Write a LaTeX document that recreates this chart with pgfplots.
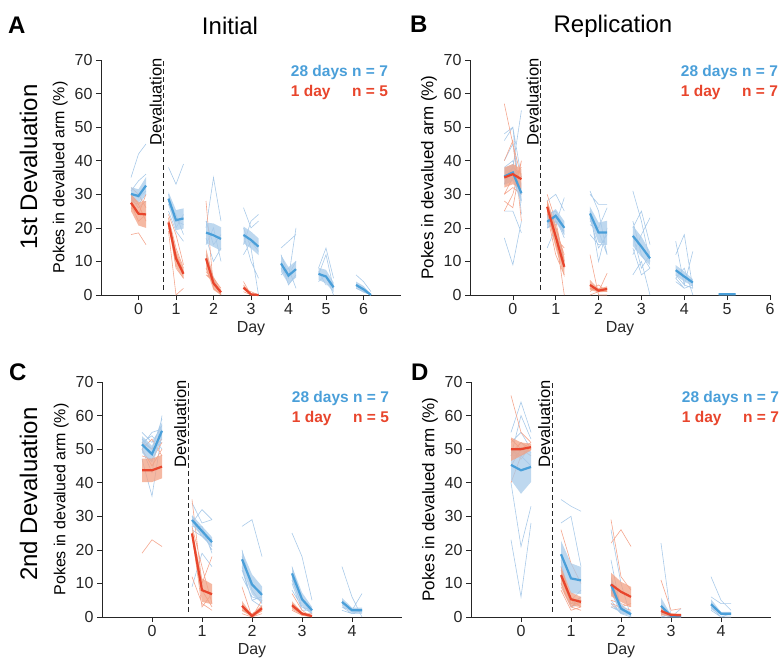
\documentclass[border=0pt]{standalone}
\usepackage{fontspec}
\setmainfont{Liberation Sans}
\usepackage{pgfplots}
\pgfplotsset{compat=1.18}

\definecolor{cblue}{HTML}{4A9FD9}
\definecolor{cred}{HTML}{E8452C}
\definecolor{bblue}{HTML}{A8CBEA}
\definecolor{bred}{HTML}{F2A184}
\definecolor{iblue}{HTML}{A9CAE9}
\definecolor{ired}{HTML}{F4A68E}
\definecolor{axgray}{HTML}{262626}

\pgfplotsset{
  panel/.style={
    scale only axis, width=300pt, height=235pt,
    xmin=-1, ymin=0, ymax=70, ytick={0,10,...,70},
    axis lines*=left, axis line style={axgray, line width=0.6pt, -},
    tick align=outside, tick pos=left, major tick length=5pt,
    tick style={axgray, line width=0.6pt},
    tick label style={font=\fontsize{16}{18}\selectfont, text=axgray},
    /pgf/number format/assume math mode=true,
    xlabel={Day}, xlabel style={font=\fontsize{16}{18}\selectfont, text=axgray},
    ylabel={Pokes in devalued arm (\%)},
    clip=false, unbounded coords=jump,
  },
  indb/.style={iblue, line width=0.6pt},
  indr/.style={ired, line width=0.6pt},
  bandb/.style={fill=bblue, draw=none, fill opacity=0.75},
  bandr/.style={fill=bred, draw=none, fill opacity=0.75},
  meanb/.style={cblue, line width=2.2pt},
  meanr/.style={cred, line width=2.2pt},
  devline/.style={black!85, line width=0.8pt, dash pattern=on 5pt off 3pt},
}
\tikzset{
  legb/.style={font=\fontsize{15.5}{18}\selectfont\bfseries, text=cblue, inner sep=0pt},
  legr/.style={font=\fontsize{15.5}{18}\selectfont\bfseries, text=cred, inner sep=0pt},
  devtext/.style={rotate=90, anchor=base east, inner sep=0pt, font=\fontsize{16.5}{18}\selectfont},
}

\begin{document}
\begin{tikzpicture}
\path[use as bounding box] (0,0) rectangle (780pt,-659pt);

% ---------------- A: initial, 1st devaluation
\begin{axis}[panel, at={(101pt,-295pt)}, anchor=south west, xmax=7, xtick={0,...,6},
  ylabel style={font=\fontsize{16}{18}\selectfont}]
\addplot[indb] coordinates {
(-0.2,35)(0,42)(0.2,45)(0,nan) (-0.2,31)(0,34)(0.2,36)(0,nan) (-0.2,30)(0,29)(0.2,31)(0,nan) (-0.2,28)(0,27)(0.2,30)(0,nan) (-0.2,29)(0,26)(0.2,28)(0,nan)
(0.8,38)(1,33)(1.2,39)(0,nan) (0.8,30)(1,20)(1.2,24)(0,nan) (0.8,27)(1,24)(1.2,18)(0,nan) (0.8,25)(1,19)(1.2,16)(0,nan) (0.8,28)(1,22)(1.2,21)(0,nan)
(1.8,20)(2,35)(2.2,22)(0,nan) (1.8,15)(2,20)(2.2,10)(0,nan) (1.8,22)(2,15)(2.2,18)(0,nan) (1.8,17)(2,10)(2.2,14)(0,nan) (1.8,12)(2,5)(2.2,0)(0,nan)
(2.8,26)(3,20)(3.2,22)(0,nan) (2.8,15)(3,22)(3.2,24)(0,nan) (2.8,18)(3,10)(3.2,5)(0,nan) (2.8,20)(3,14)(3.2,0)(0,nan) (2.8,12)(3,16)(3.2,13)(0,nan)
(3.8,14)(4,16)(4.2,18)(0,nan) (3.8,10)(4,3)(4.2,6)(0,nan) (3.8,8)(4,5)(4.2,20)(0,nan) (3.8,6)(4,8)(4.2,2)(0,nan) (3.8,12)(4,6)(4.2,10)(0,nan)
(4.8,8)(5,14)(5.2,5)(0,nan) (4.8,6)(5,12)(5.2,2)(0,nan) (4.8,4)(5,6)(5.2,0)(0,nan) (4.8,7)(5,3)(5.2,3)(0,nan)
(5.8,6)(6,4)(6.2,1)(0,nan) (5.8,3)(6,1)(6.2,0)(0,nan) (5.8,2)(6,1)(6.2,0)
};
\addplot[indr] coordinates {
(-0.2,18)(0,18.5)(0.2,15)(0,nan) (-0.2,32)(0,30)(0.2,26)(0,nan) (-0.2,30)(0,27)(0.2,22)(0,nan) (-0.2,27)(0,22)(0.2,24)(0,nan) (-0.2,26)(0,24)(0.2,30)(0,nan)
(0.8,23)(1,14)(1.2,8)(0,nan) (0.8,20)(1,12)(1.2,7)(0,nan) (0.8,22)(1,8)(1.2,5)(0,nan) (0.8,19)(1,0)(1.2,2)(0,nan) (0.8,24)(1,18)(1.2,9)(0,nan)
(1.8,28)(2,2)(2.2,0)(0,nan) (1.8,8)(2,3)(2.2,1)(0,nan) (1.8,6)(2,5)(2.2,2)(0,nan) (1.8,7)(2,4)(2.2,1)(0,nan) (1.8,6)(2,4)(2.2,0)(0,nan)
(2.8,4)(3,0)(3.2,0)(0,nan) (2.8,3)(3,0)(3.2,0)(0,nan) (2.8,2)(3,1)(3.2,0)(0,nan) (2.8,1)(3,0)(3.2,0)
};
\addplot[bandb] coordinates {
(-0.2,28.1)(0,27.5)(0.2,30.1)(0.2,35.1)(0,31.5)(-0.2,32.1)(0,nan)
(0.8,26.7)(1,19.3)(1.2,19.8)(1.2,25.8)(1,25.3)(0.8,30.7)(0,nan)
(1.8,15.6)(2,14.3)(2.2,13.2)(2.2,20.2)(2,21.3)(1.8,21.6)(0,nan)
(2.8,15.4)(3,13.9)(3.2,11.9)(3.2,16.9)(3,18.9)(2.8,20.4)(0,nan)
(3.8,6.9)(4,3.3)(4.2,5.2)(4.2,10.2)(4,8.3)(3.8,11.9)(0,nan)
(4.8,4.5)(5,3.5)(5.2,0.8)(5.2,3.8)(5,7.5)(4.8,8.1)(0,nan)
(5.8,2)(6,0.7)(6.2,0)(6.2,0.3)(6,2.7)(5.8,4)
};
\addplot[bandr] coordinates {
(-0.2,25)(0,20.7)(0.2,20)(0.2,28)(0,27.7)(-0.2,30)(0,nan)
(0.8,20.1)(1,8.4)(1.2,4.8)(1.2,7.8)(1,13.4)(0.8,23.1)(0,nan)
(1.8,7.9)(2,1.5)(2.2,0)(2.2,1.6)(2,5.5)(1.8,13.9)(0,nan)
(2.8,1.6)(3,0)(3.2,0)(3.2,0.2)(3,0.4)(2.8,2.8)
};
\addplot[meanb] coordinates {
(-0.2,30.1)(0,29.5)(0.2,32.6)(0,nan) (0.8,28.7)(1,22.3)(1.2,22.8)(0,nan) (1.8,18.6)(2,17.8)(2.2,16.7)(0,nan)
(2.8,17.9)(3,16.4)(3.2,14.4)(0,nan) (3.8,9.4)(4,5.8)(4.2,7.7)(0,nan) (4.8,6.3)(5,5.5)(5.2,2.3)(0,nan) (5.8,3)(6,1.7)(6.2,0)
};
\addplot[meanr] coordinates {
(-0.2,27.5)(0,24.2)(0.2,24)(0,nan) (0.8,21.6)(1,10.9)(1.2,6.3)(0,nan) (1.8,10.9)(2,3.5)(2.2,0.8)(0,nan) (2.8,2.2)(3,0.2)(3.2,0)
};
\addplot[devline] coordinates {(0.67,1.5)(0.67,70)};
\node[devtext] at ([xshift=-2pt]axis cs:0.67,70.5) {Devaluation};
\node[legb, anchor=base east] (L) at (rel axis cs:0.957,0.928) {28 days n = 7};
\node[legr, anchor=base west] at ([yshift=-20pt]L.base west) {1 day};
\node[legr, anchor=base east] at ([yshift=-20pt]L.base east) {n = 5};
\end{axis}

% ---------------- B: replication, 1st devaluation
\begin{axis}[panel, at={(470pt,-295pt)}, anchor=south west, xmax=6, xtick={0,...,6},
  ylabel style={font=\fontsize{17}{19}\selectfont}]
\addplot[indb] coordinates {
(-0.2,17)(0,9)(0.2,22)(0,nan) (-0.2,25)(0,25)(0.2,18.5)(0,nan) (-0.2,33)(0,38)(0.2,55)(0,nan) (-0.2,40)(0,45)(0.2,28)(0,nan) (-0.2,38)(0,40)(0.2,30)(0,nan) (-0.2,48)(0,50)(0.2,35)(0,nan) (-0.2,46)(0,50)(0.2,24)(0,nan)
(0.8,22)(1,24)(1.2,18)(0,nan) (0.8,28)(1,30)(1.2,25)(0,nan) (0.8,14)(1,20)(1.2,10)(0,nan) (0.8,24)(1,25)(1.2,20)(0,nan) (0.8,20)(1,22)(1.2,19)(0,nan) (0.8,21)(1,23)(1.2,17)(0,nan) (0.8,20)(1,21)(1.2,29)(0,nan)
(1.8,30)(2,27)(2.2,27)(0,nan) (1.8,25)(2,10)(2.2,20)(0,nan) (1.8,31)(2,25)(2.2,12)(0,nan) (1.8,22)(2,20)(2.2,26)(0,nan) (1.8,18)(2,15)(2.2,15)(0,nan) (1.8,23)(2,14)(2.2,18)(0,nan) (1.8,21)(2,19)(2.2,12)(0,nan)
(2.8,31)(3,22)(3.2,10)(0,nan) (2.8,12)(3,18)(3.2,23)(0,nan) (2.8,6)(3,10)(3.2,0)(0,nan) (2.8,20)(3,25)(3.2,15)(0,nan) (2.8,18)(3,8)(3.2,12)(0,nan) (2.8,22)(3,12)(3.2,8)(0,nan) (2.8,14)(3,6)(3.2,8)(0,nan)
(3.8,16)(4,3)(4.2,13)(0,nan) (3.8,12)(4,18)(4.2,2)(0,nan) (3.8,5)(4,8)(4.2,0)(0,nan) (3.8,4)(4,2)(4.2,3)(0,nan) (3.8,6)(4,3)(4.2,2)(0,nan) (3.8,5)(4,2)(4.2,3)
};
\addplot[indr] coordinates {
(-0.2,57)(0,45)(0.2,35)(0,nan) (-0.2,40)(0,46)(0.2,22)(0,nan) (-0.2,30)(0,35)(0.2,38)(0,nan) (-0.2,25)(0,30)(0.2,40)(0,nan) (-0.2,35)(0,38)(0.2,36)(0,nan) (-0.2,30)(0,32)(0.2,30)(0,nan) (-0.2,28)(0,26)(0.2,40)(0,nan)
(0.8,30)(1,22)(1.2,10)(0,nan) (0.8,28)(1,18)(1.2,0)(0,nan) (0.8,26)(1,20)(1.2,12)(0,nan) (0.8,24)(1,12)(1.2,6)(0,nan) (0.8,25)(1,15)(1.2,8)(0,nan) (0.8,27)(1,18)(1.2,9)(0,nan) (0.8,24)(1,17)(1.2,14)(0,nan)
(1.8,12)(2,0)(2.2,0)(0,nan) (1.8,3)(2,1)(2.2,6.5)(0,nan) (1.8,2)(2,2)(2.2,2)(0,nan) (1.8,1)(2,3)(2.2,1)(0,nan) (1.8,2)(2,1)(2.2,1)(0,nan) (1.8,0)(2,1)(2.2,1)
};
\addplot[bandb] coordinates {
(-0.2,32.8)(0,34)(0.2,27.3)(0.2,33.3)(0,39)(-0.2,37.8)(0,nan)
(0.8,19.8)(1,21.6)(1.2,18)(1.2,22)(1,25.6)(0.8,23.8)(0,nan)
(1.8,22.3)(2,15.6)(2.2,15.1)(2.2,22.1)(2,21.6)(1.8,26.3)(0,nan)
(2.8,14.6)(3,11.4)(3.2,8.9)(3.2,12.9)(3,17.4)(2.8,20.6)(0,nan)
(3.8,5.9)(4,4)(4.2,2.7)(4.2,4.7)(4,7)(3.8,8.9)(0,nan)
(4.8,0)(5,0)(5.2,0)(5.2,0.4)(5,0.4)(4.8,0.4)
};
\addplot[bandr] coordinates {
(-0.2,32)(0,33)(0.2,31.5)(0.2,37.5)(0,39)(-0.2,38)(0,nan)
(0.8,24.3)(1,13.9)(1.2,5.4)(1.2,11.4)(1,20.9)(0.8,28.3)(0,nan)
(1.8,1.5)(2,0.8)(2.2,1)(2.2,2.6)(2,1.8)(1.8,4.5)
};
\addplot[meanb] coordinates {
(-0.2,35.3)(0,36.5)(0.2,30.3)(0,nan) (0.8,21.8)(1,23.6)(1.2,20)(0,nan) (1.8,24.3)(2,18.6)(2.2,18.6)(0,nan)
(2.8,17.6)(3,14.4)(3.2,10.9)(0,nan) (3.8,7.4)(4,5.5)(4.2,3.7)(0,nan) (4.8,0.2)(5,0.2)(5.2,0.2)
};
\addplot[meanr] coordinates {
(-0.2,35)(0,36)(0.2,34.5)(0,nan) (0.8,26.3)(1,17.4)(1.2,8.4)(0,nan) (1.8,3)(2,1.3)(2.2,1.8)
};
\addplot[devline] coordinates {(0.65,1.5)(0.65,70)};
\node[devtext] at ([xshift=-2pt]axis cs:0.65,70.5) {Devaluation};
\node[legb, anchor=base east] (L) at (rel axis cs:1.027,0.928) {28 days n = 7};
\node[legr, anchor=base west] at ([yshift=-20pt]L.base west) {1 day};
\node[legr, anchor=base east] at ([yshift=-20pt]L.base east) {n = 7};
\end{axis}

% ---------------- C: initial, 2nd devaluation
\begin{axis}[panel, at={(102pt,-617pt)}, anchor=south west, xmax=5, xtick={0,...,4},
  ylabel style={font=\fontsize{16}{18}\selectfont}]
\addplot[indb] coordinates {
(-0.2,50)(0,43)(0.2,60)(0,nan) (-0.2,53)(0,50)(0.2,59)(0,nan) (-0.2,55)(0,52)(0.2,57)(0,nan) (-0.2,47)(0,36)(0.2,55)(0,nan) (-0.2,52)(0,50)(0.2,52)(0,nan) (-0.2,51)(0,55)(0.2,56)(0,nan) (-0.2,52)(0,54)(0.2,50)(0,nan)
(0.8,28)(1,32)(1.2,29)(0,nan) (0.8,34)(1,28)(1.2,29)(0,nan) (0.8,30)(1,25)(1.2,20)(0,nan) (0.8,27)(1,27)(1.2,19)(0,nan) (0.8,26)(1,24)(1.2,21)(0,nan) (0.8,29)(1,24)(1.2,23)(0,nan) (0.8,9)(1,19)(1.2,15)(0,nan)
(1.8,27)(2,29)(2.2,18)(0,nan) (1.8,20)(2,8)(2.2,4)(0,nan) (1.8,15)(2,5)(2.2,3)(0,nan) (1.8,18)(2,10)(2.2,7)(0,nan) (1.8,12)(2,6)(2.2,5)(0,nan) (1.8,14)(2,5)(2.2,3)(0,nan) (1.8,14)(2,5)(2.2,6)(0,nan)
(2.8,25)(3,18)(3.2,5)(0,nan) (2.8,15)(3,5)(3.2,1)(0,nan) (2.8,12)(3,3)(3.2,2)(0,nan) (2.8,8)(3,3)(3.2,1)(0,nan) (2.8,10)(3,2)(3.2,2)(0,nan) (2.8,11)(3,3)(3.2,2)(0,nan)
(3.8,15)(4,6)(4.2,0)(0,nan) (3.8,3)(4,2)(4.2,7)(0,nan) (3.8,2)(4,1)(4.2,1)(0,nan) (3.8,3)(4,1)(4.2,2)(0,nan) (3.8,3)(4,2)(4.2,2)
};
\addplot[indr] coordinates {
(-0.2,19)(0,23)(0.2,21)(0,nan) (-0.2,48)(0,47)(0.2,52)(0,nan) (-0.2,50)(0,53)(0.2,48)(0,nan) (-0.2,52)(0,50)(0.2,53)(0,nan) (-0.2,50)(0,45)(0.2,50)(0,nan)
(0.8,25)(1,3)(1.2,7)(0,nan) (0.8,12)(1,4)(1.2,2)(0,nan) (0.8,35)(1,10)(1.2,18)(0,nan) (0.8,27)(1,15)(1.2,4)(0,nan) (0.8,25)(1,8)(1.2,3)(0,nan)
(1.8,9)(2,0)(2.2,1)(0,nan) (1.8,3)(2,0)(2.2,5)(0,nan) (1.8,2)(2,1)(2.2,3)(0,nan) (1.8,1)(2,0)(2.2,2)(0,nan)
(2.8,7)(3,2)(3.2,0)(0,nan) (2.8,4)(3,1)(3.2,0)(0,nan) (2.8,3)(3,1)(3.2,1)(0,nan) (2.8,2)(3,0.5)(3.2,0)
};
\addplot[bandb] coordinates {
(-0.2,48.9)(0,46)(0.2,53)(0.2,58)(0,51)(-0.2,53.9)(0,nan)
(0.8,27.4)(1,24.1)(1.2,20.8)(1.2,23.8)(1,27.1)(0.8,30.4)(0,nan)
(1.8,14.7)(2,6.7)(2.2,4.1)(2.2,9.1)(2,12.7)(1.8,19.7)(0,nan)
(2.8,11)(3,3.3)(3.2,1)(3.2,3)(3,7.3)(2.8,15)(0,nan)
(3.8,3.3)(4,1.2)(4.2,1.2)(4.2,2.8)(4,2.8)(3.8,5.7)
};
\addplot[bandr] coordinates {
(-0.2,40.2)(0,40.2)(0.2,41.3)(0.2,48.3)(0,47.2)(-0.2,47.2)(0,nan)
(0.8,23.4)(1,4.5)(1.2,3.8)(1.2,9.8)(1,11.5)(0.8,26.4)(0,nan)
(1.8,1.8)(2,0)(2.2,1.6)(2.2,3.6)(2,0.6)(1.8,4.8)(0,nan)
(2.8,2.3)(3,0.5)(3.2,0)(3.2,0.6)(3,1.5)(2.8,4.7)
};
\addplot[meanb] coordinates {
(-0.2,51.4)(0,48.5)(0.2,55.5)(0,nan) (0.8,28.9)(1,25.6)(1.2,22.3)(0,nan) (1.8,17.2)(2,9.7)(2.2,6.6)(0,nan)
(2.8,13)(3,5.3)(3.2,2)(0,nan) (3.8,4.5)(4,2)(4.2,2)
};
\addplot[meanr] coordinates {
(-0.2,43.7)(0,43.7)(0.2,44.8)(0,nan) (0.8,24.9)(1,8)(1.2,6.8)(0,nan) (1.8,3.3)(2,0.3)(2.2,2.6)(0,nan) (2.8,3.5)(3,1)(3.2,0.3)
};
\addplot[devline] coordinates {(0.72,1.5)(0.72,70)};
\node[devtext] at ([xshift=-2pt]axis cs:0.72,70.5) {Devaluation};
\node[legb, anchor=base east] (L) at (rel axis cs:0.957,0.911) {28 days n = 7};
\node[legr, anchor=base west] at ([yshift=-20pt]L.base west) {1 day};
\node[legr, anchor=base east] at ([yshift=-20pt]L.base east) {n = 5};
\end{axis}

% ---------------- D: replication, 2nd devaluation
\begin{axis}[panel, at={(471pt,-617pt)}, anchor=south west, xmax=5, xtick={0,...,4},
  ylabel style={font=\fontsize{17}{19}\selectfont}]
\addplot[indb] coordinates {
(-0.2,23)(0,6)(0.2,28)(0,nan) (-0.2,40)(0,21)(0.2,33)(0,nan) (-0.2,55)(0,64)(0.2,55)(0,nan) (-0.2,48)(0,60)(0.2,53)(0,nan) (-0.2,50)(0,48)(0.2,45)(0,nan) (-0.2,52)(0,55)(0.2,50)(0,nan) (-0.2,49)(0,52)(0.2,49)(0,nan)
(0.8,35)(1,33)(1.2,31.5)(0,nan) (0.8,28)(1,30)(1.2,15)(0,nan) (0.8,15)(1,3)(1.2,5)(0,nan) (0.8,14)(1,5)(1.2,8)(0,nan) (0.8,12)(1,4)(1.2,6)(0,nan) (0.8,10)(1,3)(1.2,4)(0,nan) (0.8,17)(1,3)(1.2,6)(0,nan)
(1.8,26)(2,10)(2.2,0)(0,nan) (1.8,17)(2,2)(2.2,1)(0,nan) (1.8,8)(2,1)(2.2,0)(0,nan) (1.8,5)(2,1)(2.2,1)(0,nan) (1.8,4)(2,1)(2.2,1)(0,nan) (1.8,3)(2,1.5)(2.2,1.5)(0,nan)
(2.8,22)(3,0)(3.2,0)(0,nan) (2.8,1)(3,0)(3.2,0)(0,nan) (2.8,0)(3,0)(3.2,2.5)(0,nan) (2.8,0)(3,1)(3.2,0)(0,nan)
(3.8,12)(4,5)(4.2,2)(0,nan) (3.8,6)(4,4)(4.2,4)(0,nan) (3.8,3)(4,0)(4.2,1)(0,nan) (3.8,2)(4,0)(4.2,0)
};
\addplot[indr] coordinates {
(-0.2,66)(0,55)(0.2,52)(0,nan) (-0.2,40)(0,48)(0.2,50)(0,nan) (-0.2,53)(0,50)(0.2,48)(0,nan) (-0.2,48)(0,52)(0.2,50)(0,nan) (-0.2,50)(0,47)(0.2,51)(0,nan) (-0.2,45)(0,50)(0.2,52)(0,nan) (-0.2,48)(0,48)(0.2,51)(0,nan)
(0.8,26)(1,16)(1.2,10)(0,nan) (0.8,15)(1,5)(1.2,3)(0,nan) (0.8,10)(1,3)(1.2,2)(0,nan) (0.8,8)(1,2)(1.2,3)(0,nan) (0.8,12)(1,4)(1.2,4)(0,nan) (0.8,9)(1,3)(1.2,5)(0,nan)
(1.8,22)(2,26)(2.2,21)(0,nan) (1.8,29)(2,12)(2.2,8)(0,nan) (1.8,5)(2,4)(2.2,3)(0,nan) (1.8,4)(2,3)(2.2,4)(0,nan) (1.8,3)(2,3)(2.2,2)(0,nan)
(2.8,11)(3,2)(3.2,2.5)(0,nan) (2.8,0.5)(3,1)(3.2,0)(0,nan) (2.8,1)(3,0.5)(3.2,0)
};
\addplot[bandb] coordinates {
(-0.2,40.8)(0,36.7)(0.2,40.2)(0.2,49.2)(0,50.7)(-0.2,49.8)(0,nan)
(0.8,14.7)(1,7)(1.2,6.9)(1.2,14.9)(1,16)(0.8,22.7)(0,nan)
(1.8,7.2)(2,1)(2.2,0.3)(2.2,1.3)(2,4)(1.8,12.2)(0,nan)
(2.8,0.8)(3,0)(3.2,0)(3.2,0.6)(3,0.6)(2.8,5.8)(0,nan)
(3.8,2.3)(4,0.5)(4.2,0.5)(4.2,1.5)(4,1.5)(3.8,5.3)
};
\addplot[bandr] coordinates {
(-0.2,46.5)(0,48)(0.2,49.6)(0.2,51.6)(0,52)(-0.2,53.5)(0,nan)
(0.8,10)(1,3.3)(1.2,3)(1.2,6)(1,7.3)(0.8,15)(0,nan)
(1.8,6.2)(2,4.5)(2.2,3)(2.2,9)(2,10.5)(1.8,13.2)(0,nan)
(2.8,0.6)(3,0.1)(3.2,0)(3.2,1)(3,1.1)(2.8,3)
};
\addplot[meanb] coordinates {
(-0.2,45.3)(0,43.7)(0.2,44.7)(0,nan) (0.8,18.7)(1,11.5)(1.2,10.9)(0,nan) (1.8,9.7)(2,2.5)(2.2,0.8)(0,nan)
(2.8,3.3)(3,0.3)(3.2,0.3)(0,nan) (3.8,3.8)(4,1)(4.2,1)
};
\addplot[meanr] coordinates {
(-0.2,50)(0,50)(0.2,50.6)(0,nan) (0.8,12.5)(1,5.3)(1.2,4.5)(0,nan) (1.8,9.7)(2,7.5)(2.2,6)(0,nan) (2.8,1.8)(3,0.6)(3.2,0.5)
};
\addplot[devline] coordinates {(0.62,1.5)(0.62,70)};
\node[devtext] at ([xshift=-2pt]axis cs:0.62,70.5) {Devaluation};
\node[legb, anchor=base east] (L) at (rel axis cs:1.027,0.911) {28 days n = 7};
\node[legr, anchor=base west] at ([yshift=-20pt]L.base west) {1 day};
\node[legr, anchor=base east] at ([yshift=-20pt]L.base east) {n = 7};
\end{axis}

% titles, panel letters and row labels
\node[font=\fontsize{24}{28}\selectfont, anchor=base] at (230pt,-34pt) {Initial};
\node[font=\fontsize{24}{28}\selectfont, anchor=base] at (613pt,-32pt) {Replication};
\node[font=\fontsize{24}{28}\selectfont\bfseries, anchor=base west, inner sep=0pt] at (8pt,-33pt) {A};
\node[font=\fontsize{24}{28}\selectfont\bfseries, anchor=base west, inner sep=0pt] at (410pt,-32pt) {B};
\node[font=\fontsize{24}{28}\selectfont\bfseries, anchor=base west, inner sep=0pt] at (9pt,-380pt) {C};
\node[font=\fontsize{24}{28}\selectfont\bfseries, anchor=base west, inner sep=0pt] at (411pt,-380pt) {D};
\node[font=\fontsize{24}{28}\selectfont, rotate=90, anchor=base, inner sep=0pt] at (37pt,-167pt) {1st Devaluation};
\node[font=\fontsize{24}{28}\selectfont, rotate=90, anchor=base, inner sep=0pt] at (37pt,-494pt) {2nd Devaluation};
\end{tikzpicture}
\end{document}
